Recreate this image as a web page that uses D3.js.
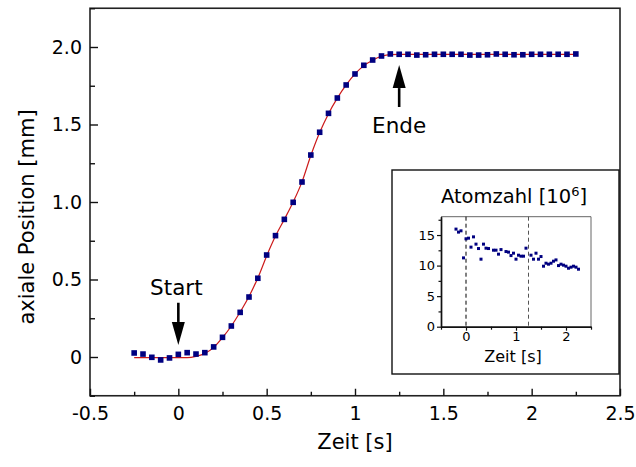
<!DOCTYPE html>
<html>
<head>
<meta charset="utf-8">
<script src="https://cdn.jsdelivr.net/npm/d3@7"></script>
<style>
    body { margin: 0; background: white; }
    svg text { font-family: "DejaVu Sans", sans-serif; fill: black; }
</style>
</head>
<body>
<div id="chart"></div>
<script>
// Main plot: axial position of the cloud over time
const posTime = [-0.25, -0.2, -0.15, -0.1, -0.05, 0, 0.05, 0.1, 0.15, 0.2,
    0.25, 0.3, 0.35, 0.4, 0.45, 0.5, 0.55, 0.6, 0.65, 0.7,
    0.75, 0.8, 0.85, 0.9, 0.95, 1.0, 1.05, 1.1, 1.15, 1.2,
    1.25, 1.3, 1.35, 1.4, 1.45, 1.5, 1.55, 1.6, 1.65, 1.7,
    1.75, 1.8, 1.85, 1.9, 1.95, 2.0, 2.05, 2.1, 2.15, 2.2, 2.25];
const posValue = [0.026, 0.019, -0.002, -0.019, -0.006, 0.017, 0.028, 0.019, 0.028, 0.065,
    0.127, 0.200, 0.288, 0.387, 0.508, 0.658, 0.783, 0.888, 0.998, 1.129,
    1.303, 1.450, 1.572, 1.671, 1.755, 1.826, 1.882, 1.916, 1.942, 1.955,
    1.953, 1.953, 1.948, 1.950, 1.953, 1.953, 1.953, 1.953, 1.948, 1.948,
    1.950, 1.955, 1.953, 1.950, 1.950, 1.953, 1.953, 1.953, 1.953, 1.953, 1.955];
// Fitted curve (red), read at the same times
const fitValue = [-0.004, -0.004, -0.004, -0.004, -0.004, -0.004, -0.004, 0.004, 0.022, 0.062,
    0.125, 0.200, 0.290, 0.390, 0.510, 0.652, 0.780, 0.888, 1.000, 1.130,
    1.300, 1.448, 1.570, 1.670, 1.755, 1.826, 1.880, 1.915, 1.940, 1.951,
    1.952, 1.952, 1.952, 1.952, 1.952, 1.952, 1.952, 1.952, 1.952, 1.952,
    1.952, 1.952, 1.952, 1.952, 1.952, 1.952, 1.952, 1.952, 1.952, 1.952, 1.952];

const xTicks = [-0.5, 0, 0.5, 1, 1.5, 2, 2.5];
const xTickLabels = ['-0.5', '0', '0.5', '1', '1.5', '2', '2.5'];
const xMinorTicks = [-0.25, 0.25, 0.75, 1.25, 1.75, 2.25];
const yTicks = [0, 0.5, 1.0, 1.5, 2.0];
const yTickLabels = ['0', '0.5', '1.0', '1.5', '2.0'];
const yMinorTicks = [-0.25, 0.25, 0.75, 1.25, 1.75, 2.25];

// Inset: atom number over time
const atomTime = [-0.2, -0.15, -0.1, -0.05, 0, 0.05, 0.1, 0.15, 0.2, 0.25,
    0.3, 0.35, 0.4, 0.45, 0.55, 0.6, 0.65, 0.7, 0.8, 0.85,
    0.9, 0.95, 1.0, 1.05, 1.1, 1.15, 1.2, 1.3, 1.35, 1.4,
    1.45, 1.5, 1.55, 1.6, 1.65, 1.7, 1.75, 1.8, 1.85, 1.9,
    1.95, 2.0, 2.05, 2.1, 2.15, 2.2, 2.25];
const atomCount = [15.97, 15.48, 15.69, 11.26, 14.38, 14.49, 13.02, 14.70, 13.51, 12.79,
    11.05, 13.51, 12.85, 12.79, 12.52, 12.52, 11.87, 12.62, 12.30, 12.20,
    11.64, 12.03, 11.05, 11.70, 11.54, 11.54, 12.85, 11.70, 11.05, 12.03,
    11.05, 11.48, 9.90, 10.39, 10.23, 10.39, 10.72, 10.93, 10.00, 10.23,
    10.07, 9.90, 9.57, 9.74, 9.90, 9.74, 9.41];
const insetXTicks = [0, 1, 2];
const insetXTickLabels = ['0', '1', '2'];
const insetXMinor = [-0.5, 0.5, 1.5, 2.5];
const insetYTicks = [0, 5, 10, 15];
const insetYTickLabels = ['0', '5', '10', '15'];
const insetYMinor = [2.5, 7.5, 12.5, 17.5];
const insetMarkers = [0, 1.25];

const width = 636;
const height = 467;

const svg = d3.select('#chart')
    .append('svg')
    .attr('width', width)
    .attr('height', height);

// Scales of the main plot
const x = d3.scaleLinear().domain([-0.5, 2.5]).range([90, 620]);
const y = d3.scaleLinear().domain([-0.25, 2.25]).range([395.75, 8.25]);

// Frame
svg.append('rect')
    .attr('x', x(-0.5))
    .attr('y', y(2.25))
    .attr('width', x(2.5) - x(-0.5))
    .attr('height', y(-0.25) - y(2.25))
    .attr('fill', 'none')
    .attr('stroke', '#222')
    .attr('stroke-width', 1.6);

// x-axis, ticks pointing inward
const xAxis = svg.append('g')
    .attr('transform', `translate(0,${y(-0.25)})`)
    .call(d3.axisBottom(x).tickValues(xTicks).tickSize(-7).tickPadding(24)
        .tickFormat((d, i) => xTickLabels[i]));
svg.append('g')
    .attr('transform', `translate(0,${y(-0.25)})`)
    .call(d3.axisBottom(x).tickValues(xMinorTicks).tickSize(-4).tickFormat(''));

// y-axis, ticks pointing inward
const yAxis = svg.append('g')
    .attr('transform', `translate(${x(-0.5)},0)`)
    .call(d3.axisLeft(y).tickValues(yTicks).tickSize(-8).tickPadding(8)
        .tickFormat((d, i) => yTickLabels[i]));
svg.append('g')
    .attr('transform', `translate(${x(-0.5)},0)`)
    .call(d3.axisLeft(y).tickValues(yMinorTicks).tickSize(-5).tickFormat(''));

svg.selectAll('.domain').remove();
svg.selectAll('.tick line').attr('stroke', '#111').attr('stroke-width', 1.4);
xAxis.selectAll('text').style('font-size', '19px').attr('dy', 0);
yAxis.selectAll('text').style('font-size', '19px');

// Axis titles
svg.append('text')
    .attr('x', 355)
    .attr('y', 449)
    .attr('text-anchor', 'middle')
    .style('font-size', '21px')
    .text('Zeit [s]');

svg.append('text')
    .attr('transform', 'translate(34,217) rotate(-90)')
    .attr('text-anchor', 'middle')
    .style('font-size', '21px')
    .text('axiale Position [mm]');

// Fitted curve
const fitLine = d3.line()
    .x((d, i) => x(posTime[i]))
    .y(d => y(d))
    .curve(d3.curveMonotoneX);

svg.append('path')
    .datum(fitValue)
    .attr('d', fitLine)
    .attr('fill', 'none')
    .attr('stroke', '#cc1a1a')
    .attr('stroke-width', 1.2);

// Measured points
const ms = 5.6;
svg.selectAll('.pos')
    .data(posValue)
    .enter()
    .append('rect')
    .attr('class', 'pos')
    .attr('x', (d, i) => x(posTime[i]) - ms / 2)
    .attr('y', d => y(d) - ms / 2)
    .attr('width', ms)
    .attr('height', ms)
    .attr('fill', '#000080');

// Arrows with labels
function arrow(tx, tipY, baseY, tailY) {
    const px = x(tx);
    svg.append('line')
        .attr('x1', px).attr('x2', px)
        .attr('y1', y(tailY)).attr('y2', y(baseY))
        .attr('stroke', 'black')
        .attr('stroke-width', 2.6);
    svg.append('path')
        .attr('d', `M${px - 6.5},${y(baseY)} L${px + 6.5},${y(baseY)} L${px},${y(tipY)} Z`)
        .attr('fill', 'black');
}

arrow(0, 0.077, 0.226, 0.35);
svg.append('text')
    .attr('x', x(0) - 2)
    .attr('y', y(0.4))
    .attr('text-anchor', 'middle')
    .style('font-size', '21.5px')
    .text('Start');

arrow(1.25, 1.884, 1.735, 1.613);
svg.append('text')
    .attr('x', x(1.25))
    .attr('y', y(1.447))
    .attr('text-anchor', 'middle')
    .style('font-size', '21.5px')
    .text('Ende');

// Inset box
svg.append('rect')
    .attr('x', 392)
    .attr('y', 170)
    .attr('width', 227)
    .attr('height', 204)
    .attr('fill', 'white')
    .attr('stroke', '#111')
    .attr('stroke-width', 1.4);

const xi = d3.scaleLinear().domain([-0.5, 2.5]).range([441, 591]);
const yi = d3.scaleLinear().domain([0, 18]).range([326.7, 216.7]);

const inset = svg.append('g');

// Inset plot border: thin on top and right
inset.append('path')
    .attr('d', `M${xi(-0.5)},${yi(18)} H${xi(2.5)} V${yi(0)}`)
    .attr('fill', 'none')
    .attr('stroke', '#555')
    .attr('stroke-width', 0.9);

// Dashed markers for start and end
inset.selectAll('.marker')
    .data(insetMarkers)
    .enter()
    .append('line')
    .attr('x1', d => xi(d)).attr('x2', d => xi(d))
    .attr('y1', yi(18)).attr('y2', yi(0))
    .attr('stroke', (d, i) => i === 0 ? '#000' : '#555')
    .attr('stroke-width', 1)
    .attr('stroke-dasharray', '4,3');

// Inset axes, ticks outward
const xiAxis = inset.append('g')
    .attr('transform', `translate(0,${yi(0)})`)
    .call(d3.axisBottom(xi).tickValues(insetXTicks).tickSize(4).tickSizeOuter(0).tickPadding(1)
        .tickFormat((d, i) => insetXTickLabels[i]));
inset.append('g')
    .attr('transform', `translate(0,${yi(0)})`)
    .call(d3.axisBottom(xi).tickValues(insetXMinor).tickSize(3).tickSizeOuter(0).tickFormat(''));
const yiAxis = inset.append('g')
    .attr('transform', `translate(${xi(-0.5)},0)`)
    .call(d3.axisLeft(yi).tickValues(insetYTicks).tickSize(4).tickSizeOuter(0).tickPadding(2)
        .tickFormat((d, i) => insetYTickLabels[i]));
inset.append('g')
    .attr('transform', `translate(${xi(-0.5)},0)`)
    .call(d3.axisLeft(yi).tickValues(insetYMinor).tickSize(2.5).tickSizeOuter(0).tickFormat(''));

inset.selectAll('.domain')
    .attr('stroke', '#111')
    .attr('stroke-width', 1.4);
inset.selectAll('.tick line').attr('stroke', '#111').attr('stroke-width', 1.2);
xiAxis.selectAll('text').style('font-size', '13px');
yiAxis.selectAll('text').style('font-size', '13px');

// Inset points
const ams = 3;
inset.selectAll('.atom')
    .data(atomCount)
    .enter()
    .append('rect')
    .attr('class', 'atom')
    .attr('x', (d, i) => xi(atomTime[i]) - ams / 2)
    .attr('y', d => yi(d) - ams / 2)
    .attr('width', ams)
    .attr('height', ams)
    .attr('fill', '#000080');

// Inset titles
const title = inset.append('text')
    .attr('x', 514)
    .attr('y', 203)
    .attr('text-anchor', 'middle')
    .style('font-size', '19.5px');
title.append('tspan').text('Atomzahl [10');
title.append('tspan').attr('dy', -7).style('font-size', '13px').text('6');
title.append('tspan').attr('dy', 7).text(']');

inset.append('text')
    .attr('x', 513)
    .attr('y', 362)
    .attr('text-anchor', 'middle')
    .style('font-size', '16px')
    .text('Zeit [s]');
</script>
</body>
</html>
